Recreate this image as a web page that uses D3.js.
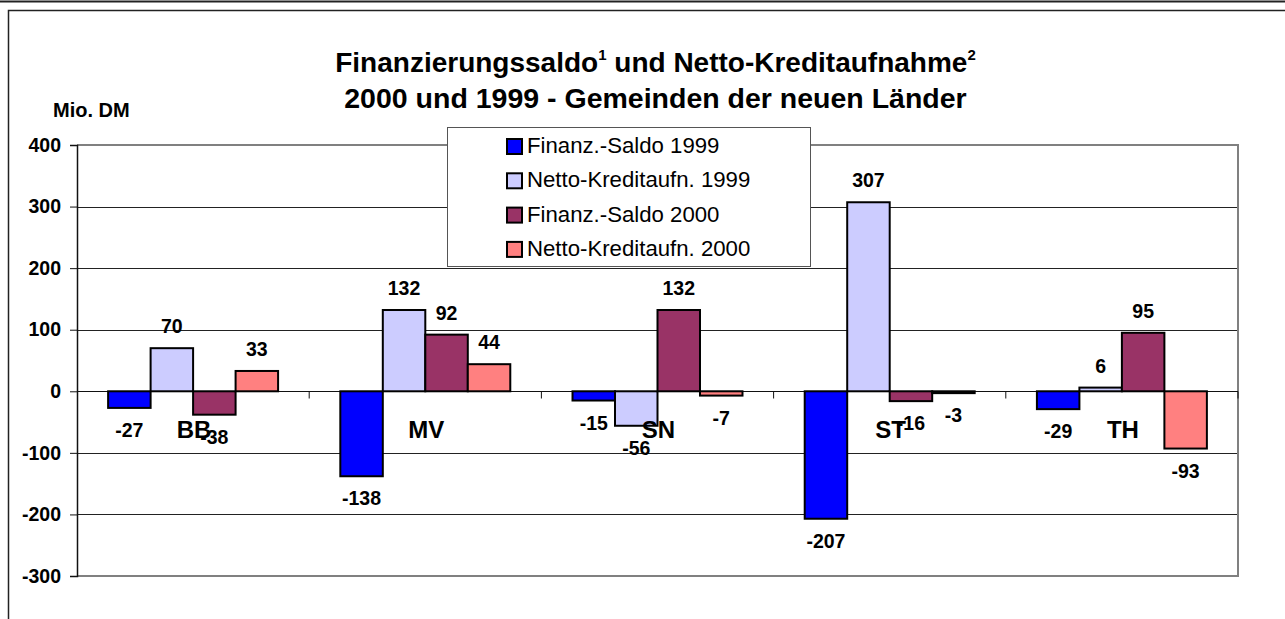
<!DOCTYPE html>
<html>
<head>
<meta charset="utf-8">
<script src="https://cdn.jsdelivr.net/npm/d3@7"></script>
<style>
  body { margin: 0; background: #fff; }
  svg { display: block; font-family: Arial, "Liberation Sans", sans-serif; }
</style>
</head>
<body>
<script>
// data
var laender = ["BB", "MV", "SN", "ST", "TH"];
var reihen = ["Finanz.-Saldo 1999", "Netto-Kreditaufn. 1999", "Finanz.-Saldo 2000", "Netto-Kreditaufn. 2000"];
var saldo1999 = [-27, -138, -15, -207, -29];
var kredit1999 = [70, 132, -56, 307, 6];
var saldo2000 = [-38, 92, 132, -16, 95];
var kredit2000 = [33, 44, -7, -3, -93];
var yTicks = [-300, -200, -100, 0, 100, 200, 300, 400];
var farben = ["#0000ff", "#ccccff", "#993366", "#ff8080"];

var werte = [saldo1999, kredit1999, saldo2000, kredit2000];

var svg = d3.select("body").append("svg")
  .attr("width", 1285)
  .attr("height", 619);

// frame lines
svg.append("line")
  .attr("x1", 0).attr("x2", 1285).attr("y1", 1.5).attr("y2", 1.5)
  .attr("stroke", "#222").attr("stroke-width", 2);
svg.append("rect")
  .attr("x", 8.5).attr("y", 10.5).attr("width", 1300).attr("height", 700)
  .attr("fill", "none").attr("stroke", "#222").attr("stroke-width", 1.5);

var pLeft = 77, pRight = 1238, pTop = 145, pBottom = 576;

var y = d3.scaleLinear().domain([-300, 400]).range([pBottom, pTop]);
var x0 = d3.scaleBand().domain(laender).range([pLeft, pRight]).padding(0);
var gap = x0.bandwidth() * 0.134;
var x1 = d3.scaleBand().domain(d3.range(4)).range([gap, x0.bandwidth() - gap]).padding(0);

// gridlines
svg.append("g").selectAll("line")
  .data(yTicks.filter(function(d) { return d != 0 && d != 400 && d != -300; }))
  .join("line")
  .attr("x1", pLeft).attr("x2", pRight)
  .attr("y1", function(d) { return Math.round(y(d)) + 0.5; })
  .attr("y2", function(d) { return Math.round(y(d)) + 0.5; })
  .attr("stroke", "#222").attr("stroke-width", 1);

// plot border (top, right, bottom)
svg.append("path")
  .attr("d", "M" + pLeft + "," + pTop + "H" + pRight + "V" + pBottom + "H" + pLeft)
  .attr("fill", "none").attr("stroke", "#808080").attr("stroke-width", 2);

// y axis
var yAxis = svg.append("g")
  .attr("transform", "translate(" + pLeft + ",0)")
  .call(d3.axisLeft(y).tickValues(yTicks).tickSize(7).tickPadding(9)
    .tickFormat(function(d) { return String(d); }));
yAxis.select(".domain").attr("stroke", "#111").attr("stroke-width", 1.5);
yAxis.selectAll(".tick line").attr("stroke", "#111");
yAxis.selectAll("text")
  .attr("font-size", 19.5).attr("font-weight", "bold")
  .attr("font-family", "Arial, 'Liberation Sans', sans-serif").attr("fill", "#000");

// zero axis
var y0 = Math.round(y(0)) + 0.5;
svg.append("line")
  .attr("x1", pLeft).attr("x2", pRight).attr("y1", y0).attr("y2", y0)
  .attr("stroke", "#111").attr("stroke-width", 1.2);
svg.append("g").selectAll("line")
  .data(laender.slice(1).concat(["end"]))
  .join("line")
  .attr("x1", function(d) { return d == "end" ? pRight : x0(d); })
  .attr("x2", function(d) { return d == "end" ? pRight : x0(d); })
  .attr("y1", y0).attr("y2", y0 + 7)
  .attr("stroke", "#111");

// bars
var rows = [];
laender.forEach(function(l, i) {
  werte.forEach(function(s, j) {
    rows.push({ land: l, serie: j, wert: s[i] });
  });
});

svg.append("g").selectAll("rect")
  .data(rows)
  .join("rect")
  .attr("x", function(d) { return x0(d.land) + x1(d.serie); })
  .attr("width", x1.bandwidth())
  .attr("y", function(d) { return y(Math.max(0, d.wert)); })
  .attr("height", function(d) { return Math.abs(y(d.wert) - y(0)); })
  .attr("fill", function(d) { return farben[d.serie]; })
  .attr("stroke", "#000").attr("stroke-width", 2);

// value labels
svg.append("g").selectAll("text")
  .data(rows)
  .join("text")
  .attr("x", function(d) { return x0(d.land) + x1(d.serie) + x1.bandwidth() / 2; })
  .attr("y", function(d) { return d.wert >= 0 ? y(d.wert) - 15 : y(d.wert) + 29; })
  .attr("text-anchor", "middle")
  .attr("font-size", 19.5).attr("font-weight", "bold")
  .text(function(d) { return String(d.wert); });

// category labels
svg.append("g").selectAll("text")
  .data(laender)
  .join("text")
  .attr("x", function(d) { return x0(d) + x0.bandwidth() / 2 + 1; })
  .attr("y", 438)
  .attr("text-anchor", "middle")
  .attr("font-size", 24).attr("font-weight", "bold")
  .text(function(d) { return d; });

// title
var cx = (pLeft + pRight) / 2 - 2;
var t1 = svg.append("text")
  .attr("x", cx).attr("y", 72)
  .attr("text-anchor", "middle")
  .attr("font-size", 28).attr("font-weight", "bold");
t1.append("tspan").text("Finanzierungssaldo");
t1.append("tspan").attr("dy", -12).attr("font-size", 15).text("1");
t1.append("tspan").attr("dy", 12).text(" und Netto-Kreditaufnahme");
t1.append("tspan").attr("dy", -12).attr("font-size", 15).text("2");

svg.append("text")
  .attr("x", cx).attr("y", 108)
  .attr("text-anchor", "middle")
  .attr("font-size", 28.5).attr("font-weight", "bold")
  .text("2000 und 1999 - Gemeinden der neuen Länder");

svg.append("text")
  .attr("x", 53).attr("y", 117)
  .attr("font-size", 20).attr("font-weight", "bold")
  .text("Mio. DM");

// legend
var lg = svg.append("g").attr("transform", "translate(447,127)");
lg.append("rect")
  .attr("x", 0.5).attr("y", 0.5).attr("width", 363).attr("height", 139)
  .attr("fill", "#fff").attr("stroke", "#555").attr("stroke-width", 1);
var items = lg.selectAll("g.item")
  .data(reihen)
  .join("g")
  .attr("class", "item")
  .attr("transform", function(d, i) { return "translate(0," + (26 + i * 34.3) + ")"; });
items.append("rect")
  .attr("x", 60).attr("y", -14).attr("width", 15).attr("height", 15)
  .attr("fill", function(d, i) { return farben[i]; })
  .attr("stroke", "#000").attr("stroke-width", 2);
items.append("text")
  .attr("x", 80).attr("y", 0)
  .attr("font-size", 22.2)
  .text(function(d) { return d; });
</script>
</body>
</html>
